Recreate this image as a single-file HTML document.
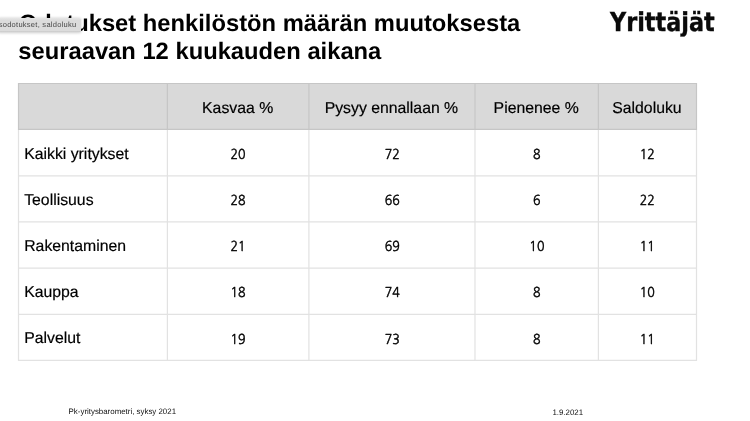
<!DOCTYPE html>
<html lang="fi">
<head>
<meta charset="utf-8">
<title>Odotukset, saldoluku</title>
<style>
html,body{margin:0;padding:0;background:#fff;}
body{width:750px;height:421px;position:relative;overflow:hidden;font-family:"Liberation Sans",sans-serif;color:#000;text-rendering:geometricPrecision;}
.title{position:absolute;left:18.3px;top:9.5px;font-weight:bold;font-size:23.75px;line-height:27px;white-space:nowrap;color:#000;}
.logo{position:absolute;left:610.4px;top:7px;font-family:"DejaVu Sans Condensed","DejaVu Sans","Liberation Sans",sans-serif;font-weight:bold;font-size:24.5px;line-height:32px;letter-spacing:0px;color:#0a0a0a;-webkit-text-stroke:0.35px #0a0a0a;white-space:nowrap;transform:scale(1.013,1.062);transform-origin:0 25px;}
.tip{position:absolute;left:-3px;top:18.1px;width:84px;height:14px;background:linear-gradient(#e7e7e7 0,#dcdcdc 2.2px,#dcdcdc 13.1px,#cdcdcd 13.3px,#d2d2d2 14px);border-radius:1.5px;box-shadow:0 0.5px 3px rgba(0,0,0,.2);font-size:7.5px;line-height:13px;letter-spacing:0.27px;color:#484848;white-space:nowrap;}
.tip span{position:absolute;left:1.7px;top:-0.5px;}
svg.grid{position:absolute;left:0;top:0;}
.c{position:absolute;height:30px;line-height:30px;text-align:center;font-size:15.8px;white-space:nowrap;color:#000;-webkit-text-stroke:0.18px #000;}
.c.h{margin-top:1px;transform:translateX(-0.5px);}
.c.l{margin-top:1px;}
.c.l{text-align:left;text-indent:5.7px;}
.c.n{font-family:"NanumGothic","DejaVu Sans Condensed","Liberation Sans",sans-serif;font-size:13.6px;margin-top:0px;letter-spacing:0px;-webkit-text-stroke:0.45px #000;transform:translateX(0.2px) scale(0.915,1);}
.foot{position:absolute;top:406.9px;font-size:7.9px;line-height:9px;color:#111;white-space:nowrap;}
</style>
</head>
<body>
<div class="title" style="left:18.8px">Odotukset henkilöstön määrän muutoksesta</div>
<div class="title" style="top:37.5px">seuraavan 12 kuukauden aikana</div>
<div class="logo">Yrittäjät</div>
<svg class="grid" width="750" height="421" viewBox="0 0 750 421">
<rect x="18.0" y="83.0" width="679.0" height="46.30000000000001" fill="#d9d9d9"/>
<line x1="18.0" x2="697.0" y1="175.8" y2="175.8" stroke="#e2e2e2" stroke-width="1.2"/>
<line x1="18.0" x2="697.0" y1="221.9" y2="221.9" stroke="#e2e2e2" stroke-width="1.2"/>
<line x1="18.0" x2="697.0" y1="268.05" y2="268.05" stroke="#e2e2e2" stroke-width="1.2"/>
<line x1="18.0" x2="697.0" y1="314.4" y2="314.4" stroke="#e2e2e2" stroke-width="1.2"/>
<line x1="18.0" x2="697.0" y1="360.4" y2="360.4" stroke="#e2e2e2" stroke-width="1.2"/>
<line x1="18.5" x2="18.5" y1="129.3" y2="360.9" stroke="#e2e2e2" stroke-width="1.2"/>
<line x1="167.4" x2="167.4" y1="129.3" y2="360.9" stroke="#e2e2e2" stroke-width="1.2"/>
<line x1="308.9" x2="308.9" y1="129.3" y2="360.9" stroke="#e2e2e2" stroke-width="1.2"/>
<line x1="475.0" x2="475.0" y1="129.3" y2="360.9" stroke="#e2e2e2" stroke-width="1.2"/>
<line x1="598.4" x2="598.4" y1="129.3" y2="360.9" stroke="#e2e2e2" stroke-width="1.2"/>
<line x1="696.5" x2="696.5" y1="129.3" y2="360.9" stroke="#e2e2e2" stroke-width="1.2"/>
<line x1="18.0" x2="697.0" y1="83.5" y2="83.5" stroke="#c6c6c6" stroke-width="1.2"/>
<line x1="18.0" x2="697.0" y1="129.3" y2="129.3" stroke="#c6c6c6" stroke-width="1.2"/>
<line x1="18.5" x2="18.5" y1="83.0" y2="129.8" stroke="#c6c6c6" stroke-width="1.2"/>
<line x1="167.4" x2="167.4" y1="83.0" y2="129.8" stroke="#c6c6c6" stroke-width="1.2"/>
<line x1="308.9" x2="308.9" y1="83.0" y2="129.8" stroke="#c6c6c6" stroke-width="1.2"/>
<line x1="475.0" x2="475.0" y1="83.0" y2="129.8" stroke="#c6c6c6" stroke-width="1.2"/>
<line x1="598.4" x2="598.4" y1="83.0" y2="129.8" stroke="#c6c6c6" stroke-width="1.2"/>
<line x1="696.5" x2="696.5" y1="83.0" y2="129.8" stroke="#c6c6c6" stroke-width="1.2"/>
</svg>
<div class="c h" style="left:167.40px;width:141.50px;top:93px">Kasvaa %</div>
<div class="c h" style="left:308.90px;width:166.10px;top:93px">Pysyy ennallaan %</div>
<div class="c h" style="left:475.00px;width:123.40px;top:93px">Pienenee %</div>
<div class="c h" style="left:598.40px;width:98.10px;top:93px">Saldoluku</div>
<div class="c l" style="left:18.50px;width:148.90px;top:139px">Kaikki yritykset</div>
<div class="c n" style="left:167.40px;width:141.50px;top:139px">20</div>
<div class="c n" style="left:308.90px;width:166.10px;top:139px">72</div>
<div class="c n" style="left:475.00px;width:123.40px;top:139px">8</div>
<div class="c n" style="left:598.40px;width:98.10px;top:139px">12</div>
<div class="c l" style="left:18.50px;width:148.90px;top:185px">Teollisuus</div>
<div class="c n" style="left:167.40px;width:141.50px;top:185px">28</div>
<div class="c n" style="left:308.90px;width:166.10px;top:185px">66</div>
<div class="c n" style="left:475.00px;width:123.40px;top:185px">6</div>
<div class="c n" style="left:598.40px;width:98.10px;top:185px">22</div>
<div class="c l" style="left:18.50px;width:148.90px;top:231px">Rakentaminen</div>
<div class="c n" style="left:167.40px;width:141.50px;top:231px">21</div>
<div class="c n" style="left:308.90px;width:166.10px;top:231px">69</div>
<div class="c n" style="left:475.00px;width:123.40px;top:231px">10</div>
<div class="c n" style="left:598.40px;width:98.10px;top:231px">11</div>
<div class="c l" style="left:18.50px;width:148.90px;top:277px">Kauppa</div>
<div class="c n" style="left:167.40px;width:141.50px;top:277px">18</div>
<div class="c n" style="left:308.90px;width:166.10px;top:277px">74</div>
<div class="c n" style="left:475.00px;width:123.40px;top:277px">8</div>
<div class="c n" style="left:598.40px;width:98.10px;top:277px">10</div>
<div class="c l" style="left:18.50px;width:148.90px;top:323px">Palvelut</div>
<div class="c n" style="left:167.40px;width:141.50px;top:324px">19</div>
<div class="c n" style="left:308.90px;width:166.10px;top:324px">73</div>
<div class="c n" style="left:475.00px;width:123.40px;top:324px">8</div>
<div class="c n" style="left:598.40px;width:98.10px;top:324px">11</div>
<div class="foot" style="left:68.6px">Pk-yritysbarometri, syksy 2021</div>
<div class="foot" style="left:552.4px;top:407.9px">1.9.2021</div>
<div class="tip"><span>sodotukset, saldoluku</span></div>
</body>
</html>
